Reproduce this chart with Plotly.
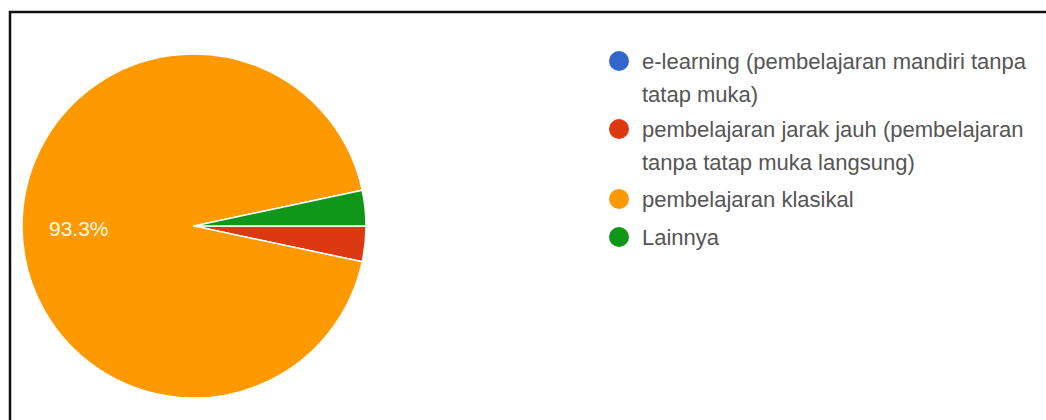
import plotly.graph_objects as go

# Survey answers: preferred learning mode (30 respondents)
labels = [
    "e-learning (pembelajaran mandiri tanpa tatap muka)",
    "pembelajaran jarak jauh (pembelajaran tanpa tatap muka langsung)",
    "pembelajaran klasikal",
    "Lainnya",
]
# line breaks used in the legend column
legend_lines = [
    ["e-learning (pembelajaran mandiri tanpa", "tatap muka)"],
    ["pembelajaran jarak jauh (pembelajaran", "tanpa tatap muka langsung)"],
    ["pembelajaran klasikal"],
    ["Lainnya"],
]
counts = [0, 1, 28, 1]
colors = ["#3366CC", "#DC3912", "#FF9900", "#109618"]

W, H = 1046, 420
total = sum(counts)
FONT = "Liberation Sans, Arial, sans-serif"

# pie geometry (pixels)
cx, cy, r = 194, 226, 172

fig = go.Figure()
fig.add_trace(go.Pie(
    labels=labels,
    values=counts,
    sort=False,
    direction="clockwise",
    rotation=90,
    marker=dict(colors=colors, line=dict(color="white", width=1.5)),
    textinfo="none",
    showlegend=False,
    hoverinfo="label+percent",
    domain=dict(
        x=[(cx - r) / W, (cx + r) / W],
        y=[(H - cy - r) / H, (H - cy + r) / H],
    ),
))

shapes = []
annotations = []

# percentage label of the dominant slice
big = max(range(len(counts)), key=lambda i: counts[i])
annotations.append(dict(
    text=f"{counts[big] / total:.1%}", xref="paper", yref="paper",
    x=79 / W, y=(H - 228) / H, xanchor="center", yanchor="middle",
    showarrow=False,
    font=dict(family=FONT, size=21, color="#FFF8EC"),
))

# legend column: colored dots with wrapped labels
dot_x, text_x = 619, 640
row_y = [61, 129, 199, 237]
line_gap = 34
dot_r = 10
for lines, col, y0 in zip(legend_lines, colors, row_y):
    shapes.append(dict(
        type="circle", xref="paper", yref="paper",
        x0=(dot_x - dot_r) / W, x1=(dot_x + dot_r) / W,
        y0=(H - y0 - dot_r) / H, y1=(H - y0 + dot_r) / H,
        fillcolor=col, line=dict(width=0),
    ))
    for i, ln in enumerate(lines):
        annotations.append(dict(
            text=ln, xref="paper", yref="paper",
            x=text_x / W, y=(H - (y0 + i * line_gap)) / H,
            xanchor="left", yanchor="middle", showarrow=False,
            font=dict(family=FONT, size=22, color="#555555"),
        ))

# frame around the chart area (open at the right and bottom)
shapes.append(dict(
    type="path", xref="paper", yref="paper",
    path=f"M {10 / W} 0 L {10 / W} {(H - 12) / H} L 1.01 {(H - 12) / H}",
    line=dict(color="#111111", width=2.5),
))

fig.update_layout(
    width=W, height=H,
    margin=dict(l=0, r=0, t=0, b=0),
    paper_bgcolor="white",
    plot_bgcolor="white",
    shapes=shapes,
    annotations=annotations,
)

fig.write_html("out.html")
